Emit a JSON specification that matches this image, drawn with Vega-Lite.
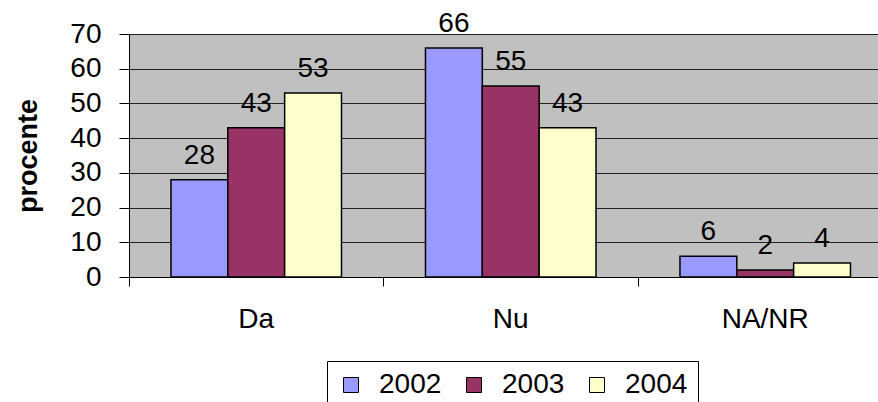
{
  "$schema": "https://vega.github.io/schema/vega-lite/v6.json",
  "autosize": {"type": "none"},
  "width": 749,
  "height": 243,
  "padding": {"left": 129, "top": 34, "right": 0, "bottom": 125},
  "background": "white",
  "config": {
    "font": "Liberation Sans",
    "view": {"fill": "#C0C0C0", "stroke": null}
  },
  "data": {
    "values": [
      {"cat": "Da", "year": "2002", "value": 28},
      {"cat": "Da", "year": "2003", "value": 43},
      {"cat": "Da", "year": "2004", "value": 53},
      {"cat": "Nu", "year": "2002", "value": 66},
      {"cat": "Nu", "year": "2003", "value": 55},
      {"cat": "Nu", "year": "2004", "value": 43},
      {"cat": "NA/NR", "year": "2002", "value": 6},
      {"cat": "NA/NR", "year": "2003", "value": 2},
      {"cat": "NA/NR", "year": "2004", "value": 4}
    ]
  },
  "encoding": {
    "x": {
      "field": "cat", "type": "nominal", "sort": ["Da", "Nu", "NA/NR"],
      "scale": {"paddingInner": 0.33, "paddingOuter": 0.1365, "align": 0.604},
      "axis": {
        "title": null, "labelAngle": 0, "labelFontSize": 28, "labelColor": "black",
        "labelPadding": 19, "bandPosition": -0.246, "tickSize": 9, "tickColor": "black",
        "domainColor": "black", "grid": false
      }
    },
    "xOffset": {"field": "year", "type": "nominal", "scale": {"paddingInner": 0, "paddingOuter": 0}},
    "y": {
      "field": "value", "type": "quantitative",
      "scale": {"domain": [0, 70], "nice": false},
      "axis": {
        "title": "procente", "titleFontSize": 27, "titleFontWeight": "bold", "titleColor": "black",
        "titlePadding": 27,
        "values": [0, 10, 20, 30, 40, 50, 60, 70],
        "labelFontSize": 28, "labelColor": "black", "labelPadding": 18,
        "tickSize": 10, "tickColor": "black", "domainColor": "black",
        "grid": true, "gridColor": "#222", "gridWidth": 1
      }
    }
  },
  "layer": [
    {
      "mark": {"type": "bar", "stroke": "black", "strokeWidth": 1.5},
      "encoding": {
        "color": {
          "field": "year", "type": "nominal",
          "scale": {"domain": ["2002", "2003", "2004"], "range": ["#9999FF", "#993366", "#FFFFCC"]},
          "legend": {
            "title": null, "orient": "none", "direction": "horizontal",
            "legendX": 198, "legendY": 327,
            "symbolType": "square", "symbolSize": 225, "symbolStrokeColor": "black", "symbolStrokeWidth": 1,
            "labelFontSize": 28, "labelColor": "black", "labelOffset": 14,
            "columnPadding": 18,
            "strokeColor": "black", "padding": 10, "fillColor": "white"
          }
        }
      }
    },
    {
      "mark": {"type": "text", "dy": -16, "fontSize": 28, "color": "black", "baseline": "alphabetic"},
      "encoding": {"text": {"field": "value", "type": "quantitative"}}
    }
  ]
}
